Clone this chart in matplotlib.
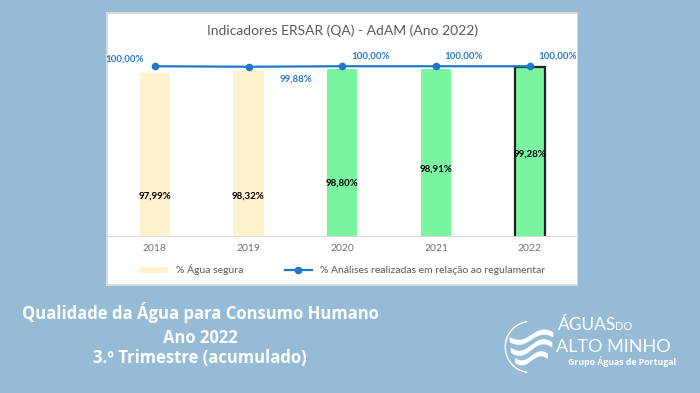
import matplotlib.pyplot as plt
import matplotlib.patches as mpatches
from matplotlib.lines import Line2D
import numpy as np

plt.rcParams['font.family'] = ['Lato', 'DejaVu Sans']

# dados
anos = ['2018', '2019', '2020', '2021', '2022']
agua_segura = [97.99, 98.32, 98.80, 98.91, 99.28]
analises = [100.00, 99.88, 100.00, 100.00, 100.00]

bar_cores = ['#FFF2CC', '#FFF2CC', '#79F5A0', '#79F5A0', '#79F5A0']
azul = '#1F78C8'

def pct(v):
    return f'{v:.2f}%'.replace('.', ',')

fig = plt.figure(figsize=(7, 3.93), dpi=100)
fig.patch.set_facecolor('#95BBD7')

# painel branco do gráfico
sombra = mpatches.Rectangle((0.152, 0.272), 0.674, 0.697, transform=fig.transFigure,
                            facecolor='#D9D9D9', edgecolor='none', zorder=-2)
painel = mpatches.Rectangle((0.154, 0.277), 0.670, 0.687, transform=fig.transFigure,
                            facecolor='white', edgecolor='none', zorder=-1)
fig.patches.extend([sombra, painel])

ax = fig.add_axes([0.154, 0.3995, 0.670, 0.473])
ax.set_facecolor('none')
x = np.arange(len(anos))

bars = ax.bar(x, agua_segura, width=0.32, color=bar_cores, zorder=2)
bars[-1].set_edgecolor('#222222')
bars[-1].set_linewidth(1.6)

# linha num eixo secundário (como no Excel)
ax2 = ax.twinx()
ax2.plot(x, analises, color=azul, lw=1.6, marker='o', ms=4.5, zorder=3)
ax2.set_ylim(60, 103.8)
ax2.axis('off')

ax.set_xlim(-0.5, 4.5)
ax.set_ylim(60, 103.3)
ax.set_yticks([])
for s in ['top', 'right', 'left']:
    ax.spines[s].set_visible(False)
ax.spines['bottom'].set_color('#D9D9D9')
ax.set_xticks(x)
ax.set_xticklabels(anos, color='#707070', fontsize=7.5)
ax.tick_params(axis='x', length=0, pad=6)

# rótulos das barras (alturas como no original)
label_y = [69.3, 69.3, 72.3, 75.6, 79.1]
for xi, v, ly in zip(x, agua_segura, label_y):
    ax.text(xi, ly, pct(v), ha='center', va='center', fontsize=7,
            fontweight='bold', color='black', zorder=4)

# rótulos da linha
offsets = [(-22, 5), (34, -9), (20, 7), (20, 7), (20, 7)]
for xi, v, off in zip(x, analises, offsets):
    ax2.annotate(pct(v), (xi, v), xytext=off, textcoords='offset points',
                 ha='center', va='center', fontsize=7, fontweight='bold', color='#2E7BC4')

fig.text(0.49, 0.923, 'Indicadores ERSAR (QA) - AdAM (Ano 2022)', ha='center', va='center',
         fontsize=10, color='#595959')

handles = [mpatches.Patch(facecolor='#FFF2CC', edgecolor='none'),
           Line2D([0], [0], color=azul, lw=1.6, marker='o', ms=4.5)]
fig.legend(handles, ['% Água segura', '% Análises realizadas em relação ao regulamentar'],
           loc='center', bbox_to_anchor=(0.49, 0.313), ncol=2, frameon=False,
           fontsize=7.5, labelcolor='#595959', handlelength=2.6, columnspacing=4,
           handleheight=0.6)

# texto inferior
for txt, yy in [('Qualidade da Água para Consumo Humano', 0.205),
                ('Ano 2022', 0.141), ('3.º Trimestre (acumulado)', 0.09)]:
    fig.text(0.286, yy, txt, ha='center', va='center', fontsize=12,
             fontweight='bold', color='white', family=['Open Sans', 'DejaVu Sans'])

# logótipo (aproximado)
lax = fig.add_axes([504 / 700, 18 / 393, 54 / 700, 56 / 393])
lax.set_xlim(-1.05, 1.05)
lax.set_ylim(-1.05, 1.05)
lax.set_aspect('equal')
lax.axis('off')
th = np.linspace(np.radians(100), np.radians(260), 80)
lax.plot(np.cos(th), np.sin(th), color='white', lw=1)
t = np.linspace(-0.85, 0.85, 60)
for dy, amp, w in [(0.4, 0.25, 1.0), (0.0, 0.28, 0.95), (-0.42, 0.22, 0.75)]:
    base = dy + amp * np.sin(np.pi * t) * 0.8
    lax.fill_between(t * w, base - 0.1, base + 0.1, color='white', lw=0)

fig.text(0.797, 0.16, 'ÁGUAS', fontsize=12.5, color='white', va='baseline',
         family=['Lato', 'DejaVu Sans'])
fig.text(0.879, 0.16, 'DO', fontsize=8, color='white', va='baseline',
         family=['Lato', 'DejaVu Sans'])
fig.text(0.794, 0.105, 'ALTO MINHO', fontsize=13, color='white', va='baseline',
         family=['Lato', 'DejaVu Sans'])
fig.text(0.812, 0.072, 'Grupo Águas de Portugal', fontsize=6.3, color='white',
         fontweight='bold', va='baseline', family=['Open Sans', 'DejaVu Sans'])

fig.savefig('out.png', dpi=100, facecolor=fig.get_facecolor())
